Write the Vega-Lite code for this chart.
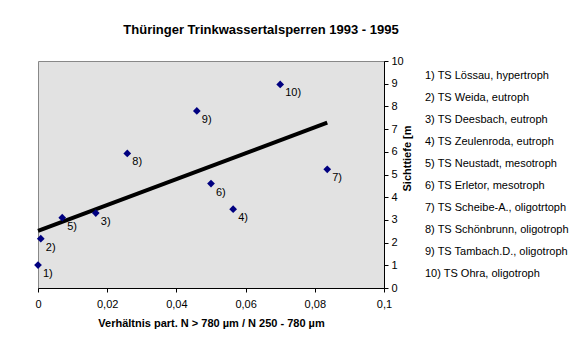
{
  "$schema": "https://vega.github.io/schema/vega-lite/v6.json",
  "width": 346,
  "height": 227,
  "autosize": "none",
  "padding": {"left": 38, "top": 61, "right": 190, "bottom": 63},
  "background": "white",
  "title": {"text": "Thüringer Trinkwassertalsperren 1993 - 1995", "font": "Liberation Sans", "fontSize": 13, "fontWeight": "bold", "anchor": "middle", "dx": 50, "offset": 18, "color": "black"},
  "config": {"view": {"fill": "#e2e2e2", "stroke": "#888888", "strokeWidth": 1}, "font": "Liberation Sans"},
  "datasets": {
    "trend": [{"x": 0, "y": 2.52}, {"x": 0.0836, "y": 7.28}],
    "lakes": [
      {"x": 0.0000, "y": 1.01, "label": "1)", "name": "1) TS Lössau, hypertroph"},
      {"x": 0.0008, "y": 2.17, "label": "2)", "name": "2) TS Weida, eutroph"},
      {"x": 0.0167, "y": 3.30, "label": "3)", "name": "3) TS Deesbach, eutroph"},
      {"x": 0.0564, "y": 3.47, "label": "4)", "name": "4) TS Zeulenroda, eutroph"},
      {"x": 0.0070, "y": 3.10, "label": "5)", "name": "5) TS Neustadt, mesotroph"},
      {"x": 0.0500, "y": 4.60, "label": "6)", "name": "6) TS Erletor, mesotroph"},
      {"x": 0.0836, "y": 5.23, "label": "7)", "name": "7) TS Scheibe-A., oligotrtoph"},
      {"x": 0.0258, "y": 5.93, "label": "8)", "name": "8) TS Schönbrunn, oligotroph"},
      {"x": 0.0459, "y": 7.80, "label": "9)", "name": "9) TS Tambach.D., oligotroph"},
      {"x": 0.0700, "y": 8.97, "label": "10)", "name": "10) TS Ohra, oligotroph"}
    ]
  },
  "encoding": {
    "x": {"field": "x", "type": "quantitative", "scale": {"domain": [0, 0.1], "nice": false, "zero": false},
      "axis": {"title": "Verhältnis part. N > 780 µm / N 250 - 780 µm", "values": [0, 0.02, 0.04, 0.06, 0.08, 0.1], "tickCount": 20, "labelExpr": "replace(format(datum.value, '~g'), '.', ',')", "grid": false, "domainColor": "black", "tickColor": "black", "labelColor": "black", "labelFontSize": 11, "labelPadding": 6, "tickSize": 4, "titleFontSize": 11, "titleFontWeight": "bold", "titleColor": "black", "titlePadding": 8, "labelFlush": false, "labelOverlap": false}},
    "y": {"field": "y", "type": "quantitative", "scale": {"domain": [0, 10], "nice": false},
      "axis": {"orient": "right", "title": "Sichttiefe [m", "values": [0, 1, 2, 3, 4, 5, 6, 7, 8, 9, 10], "tickCount": 20, "format": "d", "grid": false, "domainColor": "black", "tickColor": "black", "labelColor": "black", "labelFontSize": 11, "labelPadding": 3, "tickSize": 4, "labelFlush": false, "labelOverlap": false, "titleFontSize": 11, "titleFontWeight": "bold", "titleColor": "black", "titleAngle": 270, "titleX": 26, "titleY": 97, "titleAlign": "center", "titleBaseline": "alphabetic"}}
  },
  "layer": [
    {
      "data": {"name": "trend"},
      "mark": {"type": "line", "color": "black", "strokeWidth": 4}
    },
    {
      "data": {"name": "lakes"},
      "mark": {"type": "point", "shape": "diamond", "filled": true, "size": 60, "opacity": 1},
      "encoding": {
        "color": {"field": "name", "type": "nominal",
          "scale": {"domain": ["1) TS Lössau, hypertroph", "2) TS Weida, eutroph", "3) TS Deesbach, eutroph", "4) TS Zeulenroda, eutroph", "5) TS Neustadt, mesotroph", "6) TS Erletor, mesotroph", "7) TS Scheibe-A., oligotrtoph", "8) TS Schönbrunn, oligotroph", "9) TS Tambach.D., oligotroph", "10) TS Ohra, oligotroph"],
            "range": ["#000080", "#000080", "#000080", "#000080", "#000080", "#000080", "#000080", "#000080", "#000080", "#000080"]},
          "legend": {"orient": "none", "legendX": 376, "legendY": 9, "title": null, "symbolSize": 0, "symbolStrokeWidth": 0, "labelOffset": 0, "padding": 0, "labelFontSize": 11, "labelColor": "black", "labelLimit": 300, "rowPadding": 10}}
      }
    },
    {
      "data": {"name": "lakes"},
      "mark": {"type": "text", "align": "left", "baseline": "middle", "dx": 5, "dy": 9, "fontSize": 11, "color": "black"},
      "encoding": {
        "text": {"field": "label"}
      }
    }
  ]
}
